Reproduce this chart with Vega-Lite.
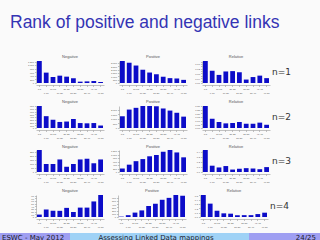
{
  "$schema": "https://vega.github.io/schema/vega-lite/v6.json",
  "background": "#fafafa",
  "padding": {"top": 14, "left": 0, "right": 0, "bottom": 0},
  "title": {"text": "Rank of positive and negative links", "anchor": "start", "dx": 10, "fontSize": 17.5, "font": "Liberation Sans", "fontWeight": "normal", "color": "#3434b4", "offset": 23},
  "datasets": {
    "ranks": [
      {"n":"n=1","k":"Negative","b":"1-5","v":1230},{"n":"n=1","k":"Negative","b":"6-10","v":580},{"n":"n=1","k":"Negative","b":"11-15","v":335},{"n":"n=1","k":"Negative","b":"16-20","v":410},{"n":"n=1","k":"Negative","b":"21-25","v":355},{"n":"n=1","k":"Negative","b":"26-30","v":260},{"n":"n=1","k":"Negative","b":"31-35","v":75},{"n":"n=1","k":"Negative","b":"36-40","v":90},{"n":"n=1","k":"Negative","b":"41-45","v":110},{"n":"n=1","k":"Negative","b":"46-50","v":55},
      {"n":"n=1","k":"Positive","b":"1-5","v":3300},{"n":"n=1","k":"Positive","b":"6-10","v":3040},{"n":"n=1","k":"Positive","b":"11-15","v":2620},{"n":"n=1","k":"Positive","b":"16-20","v":1990},{"n":"n=1","k":"Positive","b":"21-25","v":1570},{"n":"n=1","k":"Positive","b":"26-30","v":1310},{"n":"n=1","k":"Positive","b":"31-35","v":940},{"n":"n=1","k":"Positive","b":"36-40","v":730},{"n":"n=1","k":"Positive","b":"41-45","v":680},{"n":"n=1","k":"Positive","b":"46-50","v":470},
      {"n":"n=1","k":"Relative","b":"1-5","v":0.185},{"n":"n=1","k":"Relative","b":"6-10","v":0.103},{"n":"n=1","k":"Relative","b":"11-15","v":0.068},{"n":"n=1","k":"Relative","b":"16-20","v":0.097},{"n":"n=1","k":"Relative","b":"21-25","v":0.1},{"n":"n=1","k":"Relative","b":"26-30","v":0.091},{"n":"n=1","k":"Relative","b":"31-35","v":0.029},{"n":"n=1","k":"Relative","b":"36-40","v":0.05},{"n":"n=1","k":"Relative","b":"41-45","v":0.062},{"n":"n=1","k":"Relative","b":"46-50","v":0.041},
      {"n":"n=2","k":"Negative","b":"1-5","v":800},{"n":"n=2","k":"Negative","b":"6-10","v":430},{"n":"n=2","k":"Negative","b":"11-15","v":300},{"n":"n=2","k":"Negative","b":"16-20","v":220},{"n":"n=2","k":"Negative","b":"21-25","v":235},{"n":"n=2","k":"Negative","b":"26-30","v":325},{"n":"n=2","k":"Negative","b":"31-35","v":180},{"n":"n=2","k":"Negative","b":"36-40","v":170},{"n":"n=2","k":"Negative","b":"41-45","v":180},{"n":"n=2","k":"Negative","b":"46-50","v":90},
      {"n":"n=2","k":"Positive","b":"1-5","v":1280},{"n":"n=2","k":"Positive","b":"6-10","v":2010},{"n":"n=2","k":"Positive","b":"11-15","v":2200},{"n":"n=2","k":"Positive","b":"16-20","v":2400},{"n":"n=2","k":"Positive","b":"21-25","v":2400},{"n":"n=2","k":"Positive","b":"26-30","v":2360},{"n":"n=2","k":"Positive","b":"31-35","v":2130},{"n":"n=2","k":"Positive","b":"36-40","v":1900},{"n":"n=2","k":"Positive","b":"41-45","v":1660},{"n":"n=2","k":"Positive","b":"46-50","v":1240},
      {"n":"n=2","k":"Relative","b":"1-5","v":0.3},{"n":"n=2","k":"Relative","b":"6-10","v":0.126},{"n":"n=2","k":"Relative","b":"11-15","v":0.082},{"n":"n=2","k":"Relative","b":"16-20","v":0.063},{"n":"n=2","k":"Relative","b":"21-25","v":0.068},{"n":"n=2","k":"Relative","b":"26-30","v":0.082},{"n":"n=2","k":"Relative","b":"31-35","v":0.058},{"n":"n=2","k":"Relative","b":"36-40","v":0.058},{"n":"n=2","k":"Relative","b":"41-45","v":0.073},{"n":"n=2","k":"Relative","b":"46-50","v":0.044},
      {"n":"n=3","k":"Negative","b":"1-5","v":277},{"n":"n=3","k":"Negative","b":"6-10","v":101},{"n":"n=3","k":"Negative","b":"11-15","v":101},{"n":"n=3","k":"Negative","b":"16-20","v":158},{"n":"n=3","k":"Negative","b":"21-25","v":66},{"n":"n=3","k":"Negative","b":"26-30","v":101},{"n":"n=3","k":"Negative","b":"31-35","v":158},{"n":"n=3","k":"Negative","b":"36-40","v":167},{"n":"n=3","k":"Negative","b":"41-45","v":110},{"n":"n=3","k":"Negative","b":"46-50","v":158},
      {"n":"n=3","k":"Positive","b":"1-5","v":200},{"n":"n=3","k":"Positive","b":"6-10","v":420},{"n":"n=3","k":"Positive","b":"11-15","v":620},{"n":"n=3","k":"Positive","b":"16-20","v":740},{"n":"n=3","k":"Positive","b":"21-25","v":900},{"n":"n=3","k":"Positive","b":"26-30","v":980},{"n":"n=3","k":"Positive","b":"31-35","v":1160},{"n":"n=3","k":"Positive","b":"36-40","v":1260},{"n":"n=3","k":"Positive","b":"41-45","v":1120},{"n":"n=3","k":"Positive","b":"46-50","v":840},
      {"n":"n=3","k":"Relative","b":"1-5","v":0.44},{"n":"n=3","k":"Relative","b":"6-10","v":0.126},{"n":"n=3","k":"Relative","b":"11-15","v":0.091},{"n":"n=3","k":"Relative","b":"16-20","v":0.119},{"n":"n=3","k":"Relative","b":"21-25","v":0.049},{"n":"n=3","k":"Relative","b":"26-30","v":0.063},{"n":"n=3","k":"Relative","b":"31-35","v":0.077},{"n":"n=3","k":"Relative","b":"36-40","v":0.07},{"n":"n=3","k":"Relative","b":"41-45","v":0.056},{"n":"n=3","k":"Relative","b":"46-50","v":0.098},
      {"n":"n=4","k":"Negative","b":"1-5","v":9},{"n":"n=4","k":"Negative","b":"6-10","v":28},{"n":"n=4","k":"Negative","b":"11-15","v":23},{"n":"n=4","k":"Negative","b":"16-20","v":23},{"n":"n=4","k":"Negative","b":"21-25","v":34},{"n":"n=4","k":"Negative","b":"26-30","v":19},{"n":"n=4","k":"Negative","b":"31-35","v":35},{"n":"n=4","k":"Negative","b":"36-40","v":35},{"n":"n=4","k":"Negative","b":"41-45","v":58},{"n":"n=4","k":"Negative","b":"46-50","v":82},
      {"n":"n=4","k":"Positive","b":"1-5","v":12},{"n":"n=4","k":"Positive","b":"6-10","v":58},{"n":"n=4","k":"Positive","b":"11-15","v":138},{"n":"n=4","k":"Positive","b":"16-20","v":207},{"n":"n=4","k":"Positive","b":"21-25","v":345},{"n":"n=4","k":"Positive","b":"26-30","v":414},{"n":"n=4","k":"Positive","b":"31-35","v":540},{"n":"n=4","k":"Positive","b":"36-40","v":600},{"n":"n=4","k":"Positive","b":"41-45","v":690},{"n":"n=4","k":"Positive","b":"46-50","v":667},
      {"n":"n=4","k":"Relative","b":"1-5","v":0.51},{"n":"n=4","k":"Relative","b":"6-10","v":0.31},{"n":"n=4","k":"Relative","b":"11-15","v":0.145},{"n":"n=4","k":"Relative","b":"16-20","v":0.085},{"n":"n=4","k":"Relative","b":"21-25","v":0.077},{"n":"n=4","k":"Relative","b":"26-30","v":0.043},{"n":"n=4","k":"Relative","b":"31-35","v":0.043},{"n":"n=4","k":"Relative","b":"36-40","v":0.043},{"n":"n=4","k":"Relative","b":"41-45","v":0.068},{"n":"n=4","k":"Relative","b":"46-50","v":0.1}
    ]
  },
  "vconcat": [
    {
      "spacing": 0,
      "hconcat": [
        {"width": 27, "height": 10, "data": {"values": []}, "mark": "point", "encoding": {}},
        {
          "spacing": 2,
          "vconcat": [
            {
              "data": {"name": "ranks"},
              "transform": [{"filter": "datum.n == 'n=1'"}],
              "facet": {"row": {"field": "n", "type": "nominal", "title": null}, "column": {"field": "k", "type": "nominal", "title": null}},
              "spacing": {"column": 6, "row": 0},
              "resolve": {"scale": {"y": "independent"}},
              "spec": {
                "width": 68, "height": 22,
                "mark": {"type": "bar", "color": "#0c0cc8"},
                "encoding": {
                  "x": {"field": "b", "type": "ordinal", "title": null, "sort": ["1-5","6-10","11-15","16-20","21-25","26-30","31-35","36-40","41-45","46-50"], "scale": {"paddingInner": 0.3, "paddingOuter": 0.15}, "axis": {"labelPadding": {"condition": {"test": "indexof(['6-10','16-20','26-30','36-40','46-50'], datum.value) >= 0", "value": 5.5}, "value": 1}}},
                  "y": {"field": "v", "type": "quantitative", "title": null, "scale": {"nice": false}}
                }
              }
            },
            {
              "data": {"name": "ranks"},
              "transform": [{"filter": "datum.n == 'n=2'"}],
              "facet": {"row": {"field": "n", "type": "nominal", "title": null}, "column": {"field": "k", "type": "nominal", "title": null}},
              "spacing": {"column": 6, "row": 0},
              "resolve": {"scale": {"y": "independent"}},
              "spec": {
                "width": 68, "height": 22,
                "mark": {"type": "bar", "color": "#0c0cc8"},
                "encoding": {
                  "x": {"field": "b", "type": "ordinal", "title": null, "sort": ["1-5","6-10","11-15","16-20","21-25","26-30","31-35","36-40","41-45","46-50"], "scale": {"paddingInner": 0.3, "paddingOuter": 0.15}, "axis": {"labelPadding": {"condition": {"test": "indexof(['6-10','16-20','26-30','36-40','46-50'], datum.value) >= 0", "value": 5.5}, "value": 1}}},
                  "y": {"field": "v", "type": "quantitative", "title": null, "scale": {"nice": false}}
                }
              }
            },
            {
              "data": {"name": "ranks"},
              "transform": [{"filter": "datum.n == 'n=3'"}],
              "facet": {"row": {"field": "n", "type": "nominal", "title": null}, "column": {"field": "k", "type": "nominal", "title": null}},
              "spacing": {"column": 6, "row": 0},
              "resolve": {"scale": {"y": "independent"}},
              "spec": {
                "width": 68, "height": 22,
                "mark": {"type": "bar", "color": "#0c0cc8"},
                "encoding": {
                  "x": {"field": "b", "type": "ordinal", "title": null, "sort": ["1-5","6-10","11-15","16-20","21-25","26-30","31-35","36-40","41-45","46-50"], "scale": {"paddingInner": 0.3, "paddingOuter": 0.15}, "axis": {"labelPadding": {"condition": {"test": "indexof(['6-10','16-20','26-30','36-40','46-50'], datum.value) >= 0", "value": 5.5}, "value": 1}}},
                  "y": {"field": "v", "type": "quantitative", "title": null, "scale": {"nice": false}}
                }
              }
            },
            {
              "data": {"name": "ranks"},
              "transform": [{"filter": "datum.n == 'n=4'"}],
              "facet": {"row": {"field": "n", "type": "nominal", "title": null}, "column": {"field": "k", "type": "nominal", "title": null}},
              "spacing": {"column": 6, "row": 0},
              "resolve": {"scale": {"y": "independent"}},
              "spec": {
                "width": 68, "height": 22,
                "mark": {"type": "bar", "color": "#0c0cc8"},
                "encoding": {
                  "x": {"field": "b", "type": "ordinal", "title": null, "sort": ["1-5","6-10","11-15","16-20","21-25","26-30","31-35","36-40","41-45","46-50"], "scale": {"paddingInner": 0.3, "paddingOuter": 0.15}, "axis": {"labelPadding": {"condition": {"test": "indexof(['6-10','16-20','26-30','36-40','46-50'], datum.value) >= 0", "value": 5.5}, "value": 1}}},
                  "y": {"field": "v", "type": "quantitative", "title": null, "scale": {"nice": false}}
                }
              }
            }
          ]
        }
      ]
    },
    {
      "width": 320, "height": 9,
      "data": {"values": [
        {"part": "ESWC - May 2012", "w": 70, "o": 1},
        {"part": "Assessing Linked Data mappings", "w": 179, "o": 2},
        {"part": "24/25", "w": 71, "o": 3}
      ]},
      "transform": [{"stack": "w", "groupby": [], "sort": [{"field": "o"}], "as": ["x0", "x1"]}],
      "layer": [
        {
          "mark": "rect",
          "encoding": {
            "x": {"field": "x0", "type": "quantitative", "scale": {"domain": [0, 320], "nice": false}, "axis": null},
            "x2": {"field": "x1"},
            "color": {"field": "part", "type": "nominal", "legend": null, "scale": {"domain": ["ESWC - May 2012", "Assessing Linked Data mappings", "24/25"], "range": ["#9f9ff2", "#9fd2f6", "#9f9ff2"]}}
          }
        },
        {
          "transform": [{"filter": "datum.o == 1"}],
          "mark": {"type": "text", "align": "left", "dx": 2, "fontSize": 7, "font": "DejaVu Sans", "color": "#1a1a2a"},
          "encoding": {"x": {"field": "x0", "type": "quantitative"}, "text": {"field": "part"}}
        },
        {
          "transform": [{"filter": "datum.o == 2"}],
          "mark": {"type": "text", "align": "center", "dx": 86, "fontSize": 7, "font": "DejaVu Sans", "color": "#1a1a2a"},
          "encoding": {"x": {"field": "x0", "type": "quantitative"}, "text": {"field": "part"}}
        },
        {
          "transform": [{"filter": "datum.o == 3"}],
          "mark": {"type": "text", "align": "right", "dx": -4, "fontSize": 7, "font": "DejaVu Sans", "color": "#1a1a2a"},
          "encoding": {"x": {"field": "x1", "type": "quantitative"}, "text": {"field": "part"}}
        }
      ]
    }
  ],
  "spacing": 2,
  "config": {
    "font": "Liberation Sans",
    "view": {"stroke": null},
    "axis": {"grid": false, "domainColor": "#888", "tickColor": "#888", "labelColor": "#555", "domainWidth": 0.5, "tickWidth": 0.5, "tickSize": 1.5},
    "axisX": {"labelFontSize": 2.4, "labelAngle": 0, "labelOverlap": false, "minExtent": 12, "maxExtent": 12},
    "axisY": {"labelFontSize": 2.4, "labelPadding": 1, "tickCount": 6, "minExtent": 8, "maxExtent": 8},
    "headerColumn": {"labelFontSize": 4, "labelPadding": 1.5, "labelColor": "#555"},
    "headerRow": {"labelOrient": "right", "labelAngle": 0, "labelFontSize": 9, "labelPadding": 2, "labelFont": "DejaVu Sans", "labelColor": "#333"}
  }
}
